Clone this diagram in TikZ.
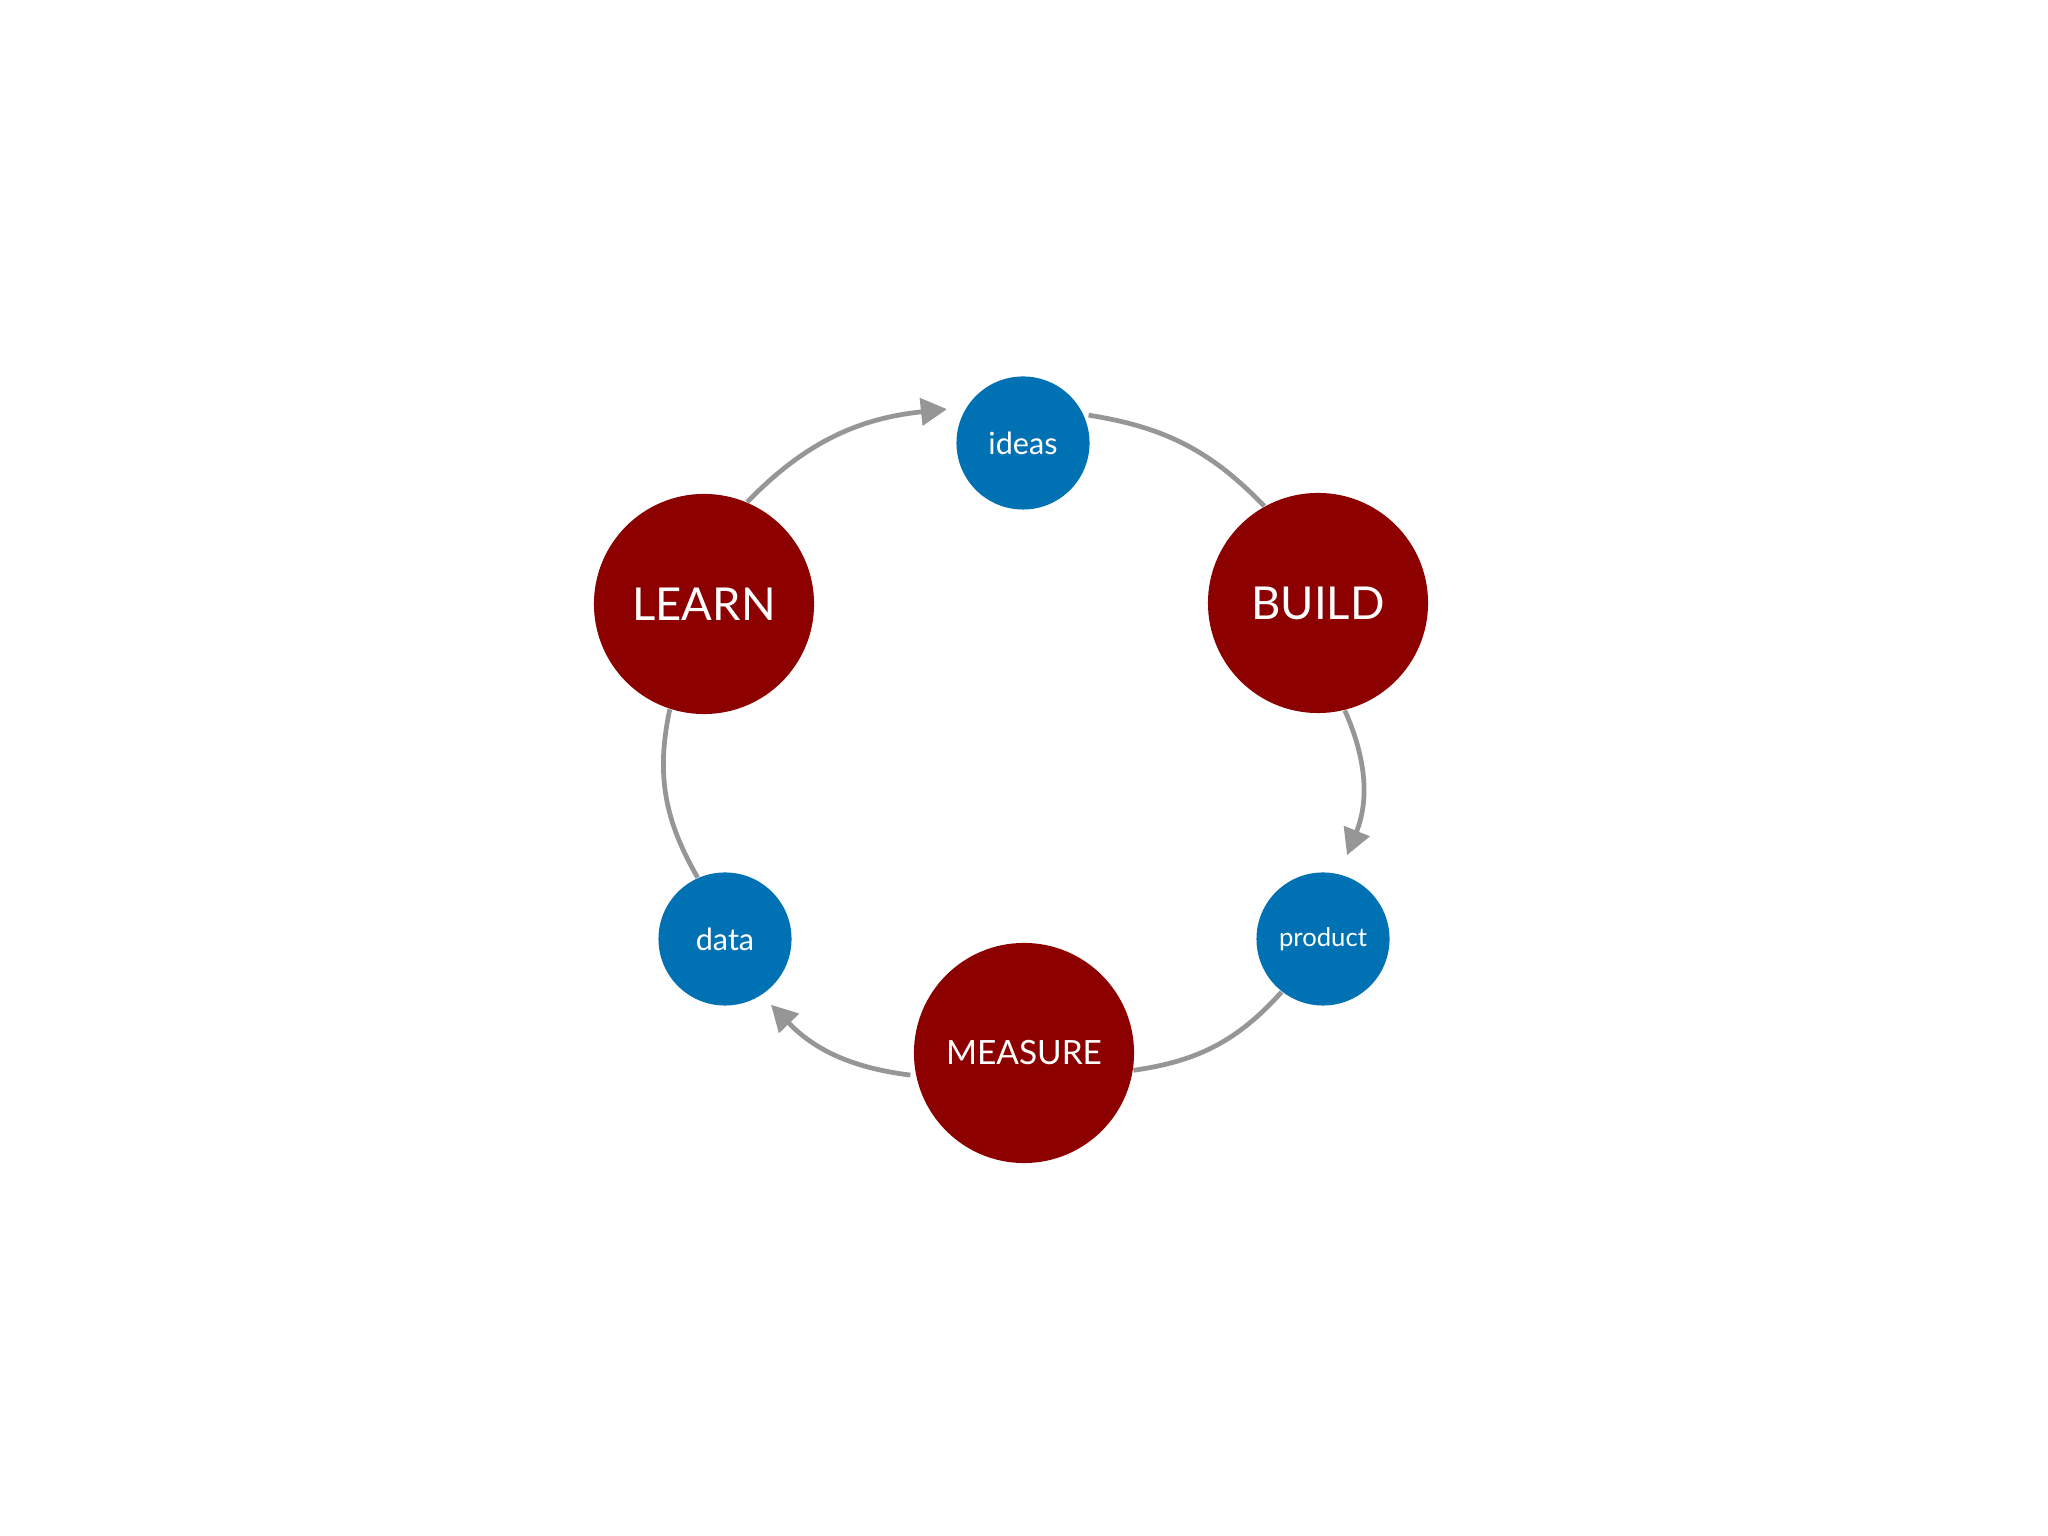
\documentclass[tikz,border=0pt]{standalone}
\usepackage{fontspec}
\setmainfont{Lato}
\usetikzlibrary{arrows.meta}
\definecolor{cred}{RGB}{140,0,0}
\definecolor{cblue}{RGB}{0,114,180}
\definecolor{cgray}{RGB}{150,150,150}
\tikzset{
  big/.style={circle,fill=cred,text=white,minimum size=2.2cm,inner sep=0pt,font=\fontsize{12.9pt}{14pt}\selectfont},
  small/.style={circle,fill=cblue,text=white,minimum size=1.33cm,inner sep=0pt,font=\fontsize{8.7pt}{10pt}\selectfont},
  conn/.style={draw=cgray,line width=1.35pt},
  arr/.style={conn,-{Triangle[length=0.26cm,width=0.27cm]}}
}
\begin{document}
\begin{tikzpicture}[x=0.01cm,y=0.01cm]
\useasboundingbox[fill=white] (0,0) rectangle (2048,1536);
\node[small] (ideas) at (1023,1093) {ideas};
\node[big] (build) at (1318,933) {BUILD};
\node[small,font=\fontsize{7.3pt}{9pt}\selectfont] (product) at (1323,597) {product};
\node[big,font=\fontsize{9.5pt}{11pt}\selectfont] (measure) at (1024,483) {MEASURE};
\node[small] (data) at (725,597) {data};
\node[big] (learn) at (704,932) {LEARN};
\draw[arr] (learn.67) to[out=46,in=186] ([shift={(156:16)}]ideas.156);
\draw[conn] ([shift={(23:4)}]ideas.23) to[out=-9,in=134] (build.119);
\draw[arr] (build.-76) to[out=-66,in=68] ([shift={(74:20)}]product.74);
\draw[conn] (product.232) to[out=228,in=8] (measure.-9);
\draw[arr] ([shift={(191:5)}]measure.191) to[out=173,in=-46] ([shift={(-55:13)}]data.-55);
\draw[conn] (data.114) to[out=120,in=-102] (learn.252);
\end{tikzpicture}
\end{document}
